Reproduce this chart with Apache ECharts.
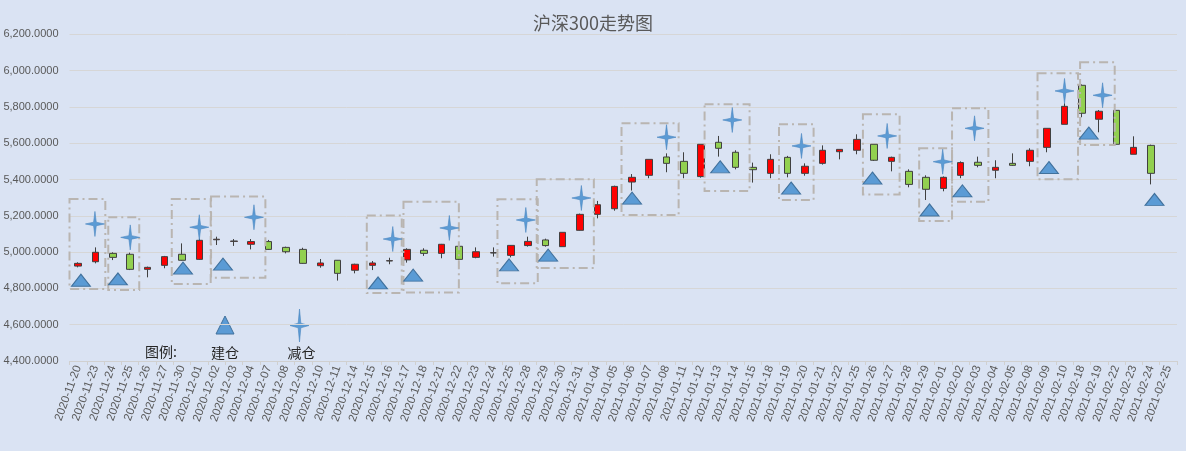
<!DOCTYPE html>
<html>
<head>
<meta charset="utf-8">
<script src="https://cdn.jsdelivr.net/npm/echarts@6/dist/echarts.min.js"></script>
<style>
  html, body { margin: 0; padding: 0; background: #DAE3F3; }
  #main { width: 1186px; height: 451px; }
</style>
</head>
<body>
<div id="main"></div>
<script>
// 日期
var dates = ['2020-11-20','2020-11-23','2020-11-24','2020-11-25','2020-11-26','2020-11-27','2020-11-30','2020-12-01',
  '2020-12-02','2020-12-03','2020-12-04','2020-12-07','2020-12-08','2020-12-09','2020-12-10','2020-12-11',
  '2020-12-14','2020-12-15','2020-12-16','2020-12-17','2020-12-18','2020-12-21','2020-12-22','2020-12-23',
  '2020-12-24','2020-12-25','2020-12-28','2020-12-29','2020-12-30','2020-12-31','2021-01-04','2021-01-05',
  '2021-01-06','2021-01-07','2021-01-08','2021-01-11','2021-01-12','2021-01-13','2021-01-14','2021-01-15',
  '2021-01-18','2021-01-19','2021-01-20','2021-01-21','2021-01-22','2021-01-25','2021-01-26','2021-01-27',
  '2021-01-28','2021-01-29','2021-02-01','2021-02-02','2021-02-03','2021-02-04','2021-02-05','2021-02-08',
  '2021-02-09','2021-02-10','2021-02-18','2021-02-19','2021-02-22','2021-02-23','2021-02-24','2021-02-25'];

// 开盘 / 收盘 / 最低 / 最高
var opens  = [4923,4947,4993,4988,4905,4927,4988,4960,5068,5059,5043,5058,5026,5015,4925,4955,
              4900,4927,4951,4957,5010,4993,5032,4971,4995,4982,5036,5067,5030,5120,5208,5239,
              5386,5423,5524,5500,5416,5605,5550,5467,5434,5522,5434,5489,5553,5561,5594,5500,
              5445,5412,5351,5423,5495,5451,5489,5500,5577,5704,5919,5732,5781,5539,5588,null];
var closes = [4938,4999,4971,4905,4916,4975,4955,5065,5071,5061,5058,5015,5002,4938,4940,4883,
              4933,4940,4953,5015,4993,5043,4960,5002,4997,5037,5059,5036,5109,5208,5261,5362,
              5412,5511,5489,5434,5594,5572,5467,5454,5511,5434,5473,5561,5566,5621,5506,5522,
              5373,5346,5412,5493,5478,5467,5478,5561,5682,5803,5765,5776,5594,5577,5434,null];
var lows   = [4916,4938,4956,4901,4861,4911,4953,4957,5039,5034,5015,5012,4993,4936,4914,4843,
              4883,4901,4933,4942,4979,4966,4956,4966,4975,4971,5030,5030,5030,5118,5186,5228,
              5339,5407,5440,5407,5410,5526,5456,5383,5407,5412,5421,5482,5511,5539,5502,5445,
              5357,5287,5335,5407,5467,5407,5475,5473,5550,5704,5743,5660,5594,5539,5373,null];
var highs  = [4944,5026,4999,4997,4920,4979,5048,5074,5085,5072,5072,5067,5030,5024,4962,4956,
              4936,4951,4969,5021,5021,5045,5036,5026,5026,5039,5085,5074,5109,5212,5282,5366,
              5430,5511,5544,5550,5594,5640,5561,5493,5539,5530,5489,5588,5566,5649,5594,5526,
              5456,5423,5417,5500,5526,5506,5544,5572,5682,5820,5924,5783,5781,5638,5592,null];

// 建仓标记 [位置(第几个交易日), 点位]
var buildMarks = [[0.16,4845],[2.3,4852],[6.06,4912],[8.37,4934],[17.33,4830],[19.36,4873],
  [24.9,4930],[27.16,4983],[32.01,5297],[37.1,5470],[41.2,5353],[45.9,5408],[49.2,5232],
  [51.1,5337],[56.1,5466],[58.4,5656],[62.2,5290]];
// 减仓标记
var reduceMarks = [[0.97,5155],[3.01,5081],[7.0,5137],[10.16,5192],[18.18,5072],[21.45,5133],
  [25.87,5177],[29.08,5298],[34.0,5633],[37.8,5728],[41.8,5585],[46.75,5640],[49.96,5498],
  [51.8,5682],[57.0,5888],[59.2,5864]];
// 操作区间框 [起, 止, 下沿, 上沿]
var boxes = [[-0.5,1.57,4797,5293],[1.74,3.53,4791,5192],[5.41,7.66,4824,5293],[7.68,10.82,4859,5306],
  [16.68,18.7,4774,5202],[18.8,22.0,4778,5278],[24.23,26.56,4828,5291],[26.5,29.8,4912,5401],
  [31.4,34.7,5204,5710],[36.2,38.8,5337,5814],[40.5,42.5,5287,5704],[45.35,47.47,5318,5759],
  [48.6,50.5,5171,5572],[50.5,52.6,5278,5792],[55.44,57.78,5401,5985],[57.9,59.9,5590,6046]];

var yTicks = [4400, 6200, 200];

var starPath = 'path://M50,0 L57,43 L100,50 L57,57 L50,100 L43,57 L0,50 L43,43 Z';

var kData = [];
for (var i = 0; i < dates.length; i++) {
  if (opens[i] == null) { kData.push('-'); continue; }
  kData.push([opens[i], closes[i], lows[i], highs[i]]);
}

function fmt(v) {
  var s = v.toFixed(4);
  var p = s.split('.');
  p[0] = p[0].replace(/\B(?=(\d{3})+(?!\d))/g, ',');
  return p.join('.');
}

// 图例 (星形的点)
function starPts(cx, cy, w, h) {
  var a = w / 2, b = h / 2, ia = w * 0.07, ib = h * 0.07;
  return [[cx, cy - b], [cx + ia, cy - ib], [cx + a, cy], [cx + ia, cy + ib],
          [cx, cy + b], [cx - ia, cy + ib], [cx - a, cy], [cx - ia, cy - ib]];
}

var myChart = echarts.init(document.getElementById('main'));
var option = {
  backgroundColor: '#DAE3F3',
  animation: false,
  title: {
    text: '沪深300走势图',
    left: 'center',
    top: 9,
    textStyle: { fontSize: 18, fontWeight: 'normal', color: '#595959', fontFamily: 'Noto Sans CJK SC' }
  },
  grid: { left: 69.5, right: 9, top: 34.3, bottom: 90 },
  xAxis: [{
    type: 'category',
    data: dates,
    boundaryGap: true,
    axisLine: { lineStyle: { color: '#D0D0D0' } },
    axisTick: { show: true, length: 4, lineStyle: { color: '#D0D0D0' } },
    axisLabel: { interval: 0, rotate: 70, fontSize: 11.5, color: '#595959', margin: 5, fontFamily: 'Liberation Sans' },
    splitLine: { show: false }
  }, {
    type: 'value',
    min: -0.5,
    max: 63.5,
    show: false
  }],
  yAxis: {
    type: 'value',
    min: yTicks[0],
    max: yTicks[1],
    interval: yTicks[2],
    axisLine: { show: false },
    axisTick: { show: false },
    axisLabel: { formatter: fmt, fontSize: 11, color: '#595959', margin: 11, fontFamily: 'Liberation Sans' },
    splitLine: { lineStyle: { color: '#D6D6D6' } }
  },
  series: [{
    name: '沪深300',
    type: 'candlestick',
    data: kData,
    barWidth: 7,
    itemStyle: {
      color: '#FF0000',
      color0: '#92D050',
      borderColor: '#404040',
      borderColor0: '#404040',
      borderWidth: 1
    }
  }, {
    type: 'custom',
    xAxisIndex: 1,
    data: boxes,
    z: 5,
    silent: true,
    encode: { x: [0, 1], y: [2, 3] },
    renderItem: function (params, api) {
      var p1 = api.coord([api.value(0), api.value(3)]);
      var p2 = api.coord([api.value(1), api.value(2)]);
      return {
        type: 'rect',
        shape: { x: p1[0], y: p1[1], width: p2[0] - p1[0], height: p2[1] - p1[1] },
        style: { fill: 'none', stroke: '#B9B5B1', lineWidth: 2, lineDash: [9, 4, 2, 4] }
      };
    }
  }, {
    name: '建仓',
    type: 'scatter',
    xAxisIndex: 1,
    data: buildMarks,
    symbol: 'triangle',
    symbolSize: [19, 12],
    z: 6,
    itemStyle: { color: '#5B9BD5', borderColor: '#41719C', borderWidth: 1, opacity: 1 }
  }, {
    name: '减仓',
    type: 'scatter',
    xAxisIndex: 1,
    data: reduceMarks,
    symbol: starPath,
    symbolSize: [19, 25],
    z: 6,
    itemStyle: { color: '#5B9BD5', borderColor: '#4A86C0', borderWidth: 0.6, opacity: 1 }
  }],
  graphic: [
    { type: 'text', x: 161, y: 352, style: { text: '图例:', font: '14px "Noto Sans CJK SC"', fill: '#262626', align: 'center', verticalAlign: 'middle' } },
    { type: 'polygon', shape: { points: [[225, 316], [234, 334], [216, 334]] }, style: { fill: '#5B9BD5', stroke: '#41719C', lineWidth: 1 } },
    { type: 'text', x: 225, y: 353, style: { text: '建仓', font: '14px "Noto Sans CJK SC"', fill: '#262626', align: 'center', verticalAlign: 'middle' } },
    { type: 'polygon', shape: { points: starPts(299.5, 325.5, 19, 33) }, style: { fill: '#5B9BD5', stroke: '#4A86C0', lineWidth: 0.6 } },
    { type: 'text', x: 301.5, y: 353, style: { text: '减仓', font: '14px "Noto Sans CJK SC"', fill: '#262626', align: 'center', verticalAlign: 'middle' } }
  ]
};
myChart.setOption(option);
window.onresize = myChart.resize;
</script>
</body>
</html>
